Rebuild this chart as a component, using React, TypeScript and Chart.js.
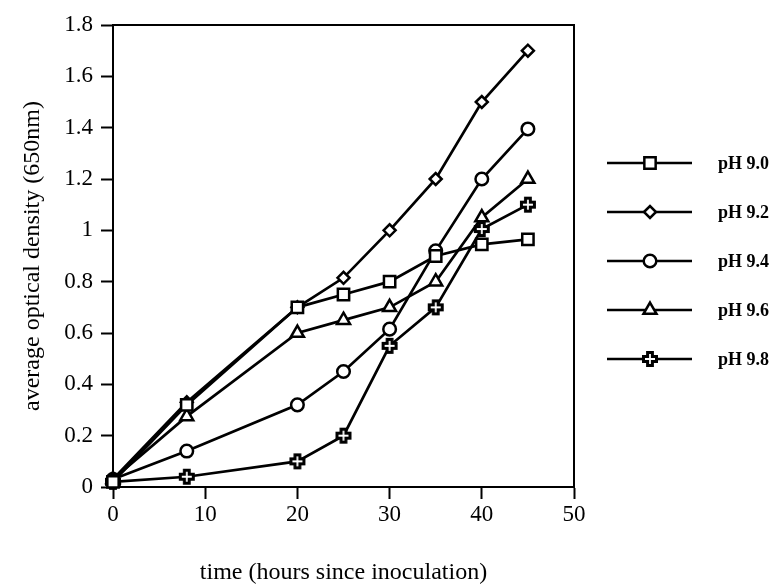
import React, { useEffect, useRef } from "react";
import { Chart, registerables } from "chart.js";
import { drawPoint } from "chart.js/helpers";

Chart.register(...registerables);

const hours = [0, 8, 20, 25, 30, 35, 40, 45];
const ph90 = [0.02, 0.32, 0.7, 0.75, 0.8, 0.9, 0.945, 0.965];
const ph92 = [0.03, 0.33, 0.7, 0.815, 1.0, 1.2, 1.5, 1.7];
const ph94 = [0.03, 0.14, 0.32, 0.45, 0.615, 0.92, 1.2, 1.395];
const ph96 = [0.03, 0.275, 0.6, 0.65, 0.7, 0.8, 1.05, 1.2];
const ph98 = [0.02, 0.04, 0.1, 0.2, 0.55, 0.7, 1.005, 1.1];
const seriesLabels = ["pH 9.0", "pH 9.2", "pH 9.4", "pH 9.6", "pH 9.8"];
const xTicks = [0, 10, 20, 30, 40, 50];
const yTicks = [0, 0.2, 0.4, 0.6, 0.8, 1, 1.2, 1.4, 1.6, 1.8];

const FONT = "'Liberation Serif', 'Times New Roman', serif";

function makeCross(): HTMLCanvasElement {
  const c = document.createElement("canvas");
  c.width = 18;
  c.height = 18;
  const g = c.getContext("2d")!;
  const a = 2.4;
  const L = 6.5;
  const pts = [
    [-a, -L], [a, -L], [a, -a], [L, -a], [L, a], [a, a],
    [a, L], [-a, L], [-a, a], [-L, a], [-L, -a], [-a, -a],
  ];
  g.beginPath();
  pts.forEach(([px, py], i) => {
    if (i === 0) g.moveTo(9 + px, 9 + py);
    else g.lineTo(9 + px, 9 + py);
  });
  g.closePath();
  g.fillStyle = "#fff";
  g.fill();
  g.lineWidth = 3;
  g.strokeStyle = "#000";
  g.lineJoin = "miter";
  g.stroke();
  return c;
}

export default function App() {
  const ref = useRef<HTMLCanvasElement | null>(null);

  useEffect(() => {
    if (!ref.current) return;
    const cross = makeCross();
    const values = [ph90, ph92, ph94, ph96, ph98];
    const styles: any[] = ["rect", "rectRot", "circle", "triangle", cross];
    const radii = [8, 6, 6.3, 7.5, 6];

    const datasets = values.map((vals, i) => ({
      label: seriesLabels[i],
      data: hours.map((h, j) => ({ x: h, y: vals[j] })),
      borderColor: "#000",
      borderWidth: 2.7,
      pointStyle: styles[i],
      pointRadius: radii[i],
      pointHoverRadius: radii[i],
      pointBackgroundColor: "#fff",
      pointBorderColor: "#000",
      pointBorderWidth: 2.5,
      tension: 0,
      fill: false,
      clip: false as any,
    }));

    const frameAndLegend = {
      id: "frameAndLegend",
      afterDatasetsDraw(chart: any) {
        const { ctx, chartArea } = chart;
        ctx.save();
        ctx.strokeStyle = "#000";
        ctx.lineWidth = 2;
        ctx.beginPath();
        ctx.moveTo(chartArea.left, chartArea.top);
        ctx.lineTo(chartArea.right, chartArea.top);
        ctx.lineTo(chartArea.right, chartArea.bottom);
        ctx.stroke();
        ctx.restore();
      },
      afterDraw(chart: any) {
        const { ctx } = chart;
        ctx.save();
        chart.data.datasets.forEach((ds: any, i: number) => {
          const y = 163 + i * 49;
          ctx.strokeStyle = "#000";
          ctx.lineWidth = 2.7;
          ctx.beginPath();
          ctx.moveTo(607, y);
          ctx.lineTo(692, y);
          ctx.stroke();
          ctx.fillStyle = "#fff";
          ctx.strokeStyle = "#000";
          ctx.lineWidth = 2.5;
          drawPoint(
            ctx,
            {
              pointStyle: ds.pointStyle,
              radius: ds.pointRadius,
              rotation: 0,
              borderWidth: 2.5,
            } as any,
            650,
            y
          );
          ctx.fillStyle = "#000";
          ctx.font = `bold 18px ${FONT}`;
          ctx.textAlign = "left";
          ctx.textBaseline = "middle";
          ctx.fillText(ds.label, 718, y + 1);
        });
        ctx.restore();
      },
    };

    const chart = new Chart(ref.current, {
      type: "line",
      data: { datasets: datasets as any },
      options: {
        animation: false,
        responsive: false,
        devicePixelRatio: 1,
        layout: { padding: { left: 0, top: 25, right: 205, bottom: 0 } },
        plugins: {
          legend: { display: false },
          tooltip: { enabled: false },
        },
        scales: {
          x: {
            type: "linear",
            min: 0,
            max: 50,
            afterBuildTicks: (s: any) => {
              s.ticks = xTicks.map((v) => ({ value: v }));
            },
            afterFit: (s: any) => {
              s.height = 100;
            },
            grid: {
              display: true,
              drawOnChartArea: false,
              drawTicks: true,
              tickLength: 12,
              tickWidth: 2,
              tickColor: "#000",
              color: "#000",
            },
            border: { display: true, color: "#000", width: 2 },
            ticks: {
              color: "#000",
              padding: 2,
              maxRotation: 0,
              autoSkip: false,
              font: { family: FONT, size: 23 },
              callback: (v: any) => String(v),
            },
            title: {
              display: true,
              text: "time (hours since inoculation)",
              color: "#000",
              font: { family: FONT, size: 24 },
              padding: { top: 0, bottom: 0 },
            },
          },
          y: {
            type: "linear",
            min: 0,
            max: 1.8,
            afterBuildTicks: (s: any) => {
              s.ticks = yTicks.map((v) => ({ value: v }));
            },
            afterFit: (s: any) => {
              s.width = 113;
            },
            grid: {
              display: true,
              drawOnChartArea: false,
              drawTicks: true,
              tickLength: 12,
              tickWidth: 2,
              tickColor: "#000",
              color: "#000",
            },
            border: { display: true, color: "#000", width: 2 },
            ticks: {
              color: "#000",
              padding: 8,
              autoSkip: false,
              font: { family: FONT, size: 23 },
              callback: (v: any) => String(v),
            },
            title: {
              display: true,
              text: "average optical density (650nm)",
              color: "#000",
              font: { family: FONT, size: 24 },
              padding: { top: 18, bottom: 0 },
            },
          },
        },
      },
      plugins: [frameAndLegend],
    });

    return () => chart.destroy();
  }, []);

  return (
    <div
      style={{
        position: "fixed",
        left: 0,
        top: 0,
        width: 779,
        height: 587,
        background: "#fff",
      }}
    >
      <canvas ref={ref} width={779} height={587} />
    </div>
  );
}
